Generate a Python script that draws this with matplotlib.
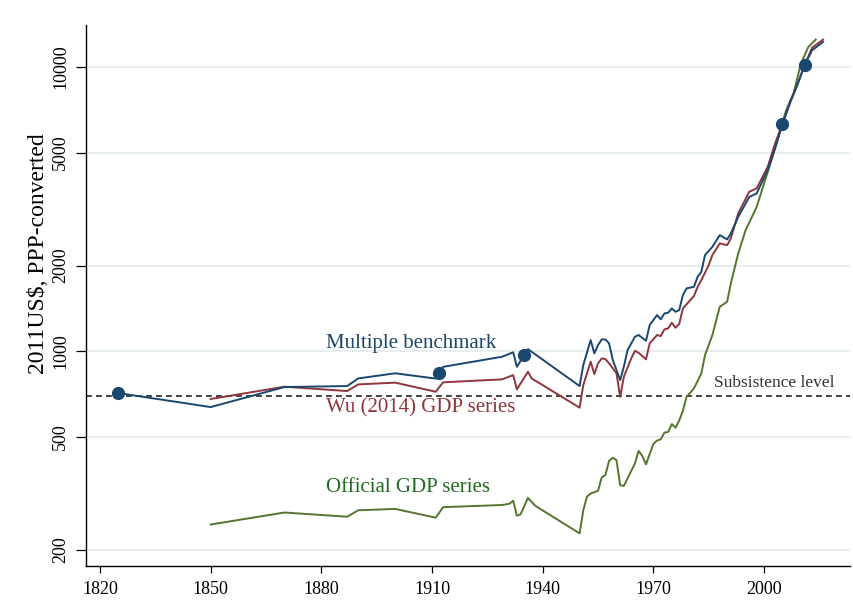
import matplotlib
matplotlib.use("Agg")
import matplotlib.pyplot as plt
from matplotlib.ticker import FixedLocator, NullLocator

plt.rcParams["font.family"] = ["Liberation Serif", "DejaVu Serif"]

NAVY = "#1a476f"
MAROON = "#90353b"
OLIVE = "#55752f"

SUBSISTENCE = 694

# Multiple benchmark series (2011US$, PPP)
mb_years = [1825, 1850, 1870, 1887, 1890, 1900, 1911, 1912, 1913, 1929, 1932, 1933,
            1935, 1936, 1950, 1951, 1953, 1954, 1955, 1956, 1957, 1958, 1959, 1961,
            1962, 1963, 1965, 1966, 1968, 1969, 1971, 1972, 1973, 1974, 1975, 1976,
            1977, 1978, 1979, 1981, 1982, 1983, 1984, 1986, 1988, 1990, 1991, 1993,
            1996, 1998, 2001, 2003, 2005, 2007, 2009, 2011, 2013, 2016]
mb_values = [711, 635, 747, 753, 801, 835, 800, 839, 880, 955, 990, 880,
             968, 1016, 753, 893, 1093, 981, 1050, 1099, 1099, 1064, 930, 790,
             881, 1008, 1123, 1139, 1087, 1235, 1339, 1293, 1357, 1364, 1413, 1375,
             1394, 1575, 1662, 1684, 1826, 1901, 2178, 2329, 2560, 2473, 2595, 2970,
             3490, 3590, 4340, 5170, 6300, 7440, 8650, 10160, 11450, 12270]

# benchmark points shown as dots
bench_years = [1825, 1912, 1935, 2005, 2011]
bench_values = [711, 839, 968, 6300, 10160]

# Wu (2014) GDP series
wu_years = [1850, 1870, 1887, 1890, 1900, 1911, 1913, 1929, 1932, 1933, 1936, 1937,
            1950, 1951, 1953, 1954, 1955, 1956, 1957, 1958, 1960, 1961, 1962, 1964,
            1965, 1966, 1968, 1969, 1971, 1972, 1973, 1974, 1975, 1976, 1977, 1978,
            1980, 1981, 1982, 1983, 1985, 1986, 1988, 1990, 1991, 1993, 1996, 1998,
            2001, 2003, 2005, 2007, 2009, 2011, 2013, 2016]
wu_values = [678, 749, 723, 763, 774, 719, 776, 795, 823, 733, 846, 801,
             632, 759, 917, 830, 905, 942, 937, 905, 835, 690, 812, 942,
             1002, 986, 935, 1064, 1139, 1129, 1192, 1202, 1258, 1208, 1245, 1413,
             1512, 1562, 1684, 1778, 2008, 2178, 2394, 2360, 2494, 3056, 3640, 3740,
             4460, 5390, 6330, 7540, 8650, 10160, 11700, 12500]

# Official GDP series
off_years = [1850, 1870, 1887, 1890, 1900, 1911, 1913, 1929, 1931, 1932, 1933, 1934,
             1936, 1938, 1950, 1951, 1952, 1953, 1955, 1956, 1957, 1958, 1959, 1960,
             1961, 1962, 1963, 1965, 1966, 1967, 1968, 1969, 1970, 1971, 1972, 1973,
             1974, 1975, 1976, 1977, 1978, 1979, 1981, 1983, 1984, 1986, 1988, 1990,
             1991, 1993, 1995, 1998, 2002, 2006, 2008, 2010, 2012, 2014]
off_values = [245, 270, 261, 275, 278, 259, 282, 287, 290, 297, 263, 266,
              304, 285, 228, 275, 307, 315, 322, 359, 366, 411, 421, 413,
              337, 335, 356, 402, 445, 427, 399, 434, 471, 484, 489, 516,
              519, 553, 537, 569, 616, 690, 739, 834, 968, 1139, 1432, 1492,
              1731, 2207, 2665, 3220, 4700, 7050, 8080, 10300, 11780, 12500]

x_ticks = [1820, 1850, 1880, 1910, 1940, 1970, 2000]
y_ticks = [200, 500, 1000, 2000, 5000, 10000]


def plot_gdp_series() -> None:
    fig = plt.figure(figsize=(8.54, 6.06), dpi=100)
    ax = fig.add_axes([86 / 854, 1 - 566 / 606, 764 / 854, 541 / 606])

    ax.set_yscale("log")
    ax.set_xlim(1816.2, 2023.3)
    ax.set_ylim(175, 14070)

    for v in y_ticks:
        ax.axhline(v, color="#e8eff1", lw=1.5, zorder=0)

    ax.axhline(SUBSISTENCE, color="#222222", lw=1.2, ls=(0, (3.5, 2.5)), zorder=1)

    ax.plot(off_years, off_values, color=OLIVE, lw=1.4, zorder=2)
    ax.plot(wu_years, wu_values, color=MAROON, lw=1.4, zorder=3)
    ax.plot(mb_years, mb_values, color=NAVY, lw=1.4, zorder=4)
    ax.plot(bench_years, bench_values, "o", color=NAVY, ms=8.5, zorder=5)

    ax.text(1881.3, 1067, "Multiple benchmark", color=NAVY, fontsize=15,
            ha="left", va="center")
    ax.text(1881.3, 630, "Wu (2014) GDP series", color=MAROON, fontsize=15,
            ha="left", va="center")
    ax.text(1881.3, 330, "Official GDP series", color="#1f6b1f", fontsize=15,
            ha="left", va="center")
    ax.text(2019.2, 772, "Subsistence level", color="#333333", fontsize=12.5,
            ha="right", va="center")

    ax.xaxis.set_major_locator(FixedLocator(x_ticks))
    ax.yaxis.set_major_locator(FixedLocator(y_ticks))
    ax.yaxis.set_minor_locator(NullLocator())
    ax.set_yticklabels([str(v) for v in y_ticks], rotation=90, va="center")
    ax.tick_params(axis="x", labelsize=13, length=5, width=0.9, pad=6)
    ax.tick_params(axis="y", labelsize=13, length=7, width=0.9, pad=5)

    for side in ["top", "right"]:
        ax.spines[side].set_visible(False)
    for side in ["left", "bottom"]:
        ax.spines[side].set_linewidth(1.0)

    fig.text(39 / 854, 1 - 254 / 606, "2011US$, PPP-converted", rotation=90,
             ha="center", va="center", fontsize=17)

    fig.savefig("out.png", dpi=100)


if __name__ == "__main__":
    plot_gdp_series()
